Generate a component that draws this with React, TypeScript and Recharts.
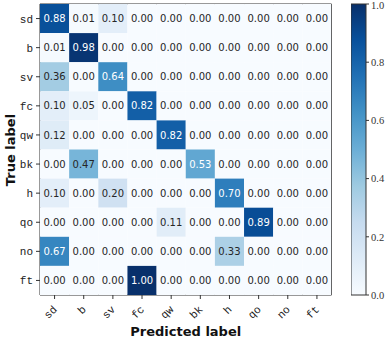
import React from 'react';
import { ScatterChart, Scatter, XAxis, YAxis, ReferenceArea, BarChart, Bar } from 'recharts';

const labels = ['sd', 'b', 'sv', 'fc', 'qw', 'bk', 'h', 'qo', 'no', 'ft'];
const rowSd = [0.88, 0.01, 0.10, 0.00, 0.00, 0.00, 0.00, 0.00, 0.00, 0.00];
const rowB = [0.01, 0.98, 0.00, 0.00, 0.00, 0.00, 0.00, 0.00, 0.00, 0.00];
const rowSv = [0.36, 0.00, 0.64, 0.00, 0.00, 0.00, 0.00, 0.00, 0.00, 0.00];
const rowFc = [0.10, 0.05, 0.00, 0.82, 0.00, 0.00, 0.00, 0.00, 0.00, 0.00];
const rowQw = [0.12, 0.00, 0.00, 0.00, 0.82, 0.00, 0.00, 0.00, 0.00, 0.00];
const rowBk = [0.00, 0.47, 0.00, 0.00, 0.00, 0.53, 0.00, 0.00, 0.00, 0.00];
const rowH = [0.10, 0.00, 0.20, 0.00, 0.00, 0.00, 0.70, 0.00, 0.00, 0.00];
const rowQo = [0.00, 0.00, 0.00, 0.00, 0.11, 0.00, 0.00, 0.89, 0.00, 0.00];
const rowNo = [0.67, 0.00, 0.00, 0.00, 0.00, 0.00, 0.33, 0.00, 0.00, 0.00];
const rowFt = [0.00, 0.00, 0.00, 1.00, 0.00, 0.00, 0.00, 0.00, 0.00, 0.00];
const matrix = [rowSd, rowB, rowSv, rowFc, rowQw, rowBk, rowH, rowQo, rowNo, rowFt];
const colorbarTicks = [0, 0.2, 0.4, 0.6, 0.8, 1.0];

const blues = ['#f7fbff', '#deebf7', '#c6dbef', '#9ecae1', '#6baed6', '#4292c6', '#2171b5', '#08519c', '#08306b'];

function hex(c: string) {
  return [parseInt(c.slice(1, 3), 16), parseInt(c.slice(3, 5), 16), parseInt(c.slice(5, 7), 16)];
}
function bluesColor(v: number) {
  const t = Math.max(0, Math.min(1, v)) * (blues.length - 1);
  const i = Math.min(Math.floor(t), blues.length - 2);
  const f = t - i;
  const a = hex(blues[i]);
  const b = hex(blues[i + 1]);
  const m = a.map((x, k) => Math.round(x + (b[k] - x) * f));
  return `rgb(${m[0]},${m[1]},${m[2]})`;
}

const cells: { x: number; y: number; v: number }[] = [];
matrix.forEach((row, r) => row.forEach((v, c) => cells.push({ x: c, y: r, v })));

const W = 388;
const H = 341;
const PL = 40;
const PT = 4;
const PR = 331.5;
const PB = 295;
const cellW = (PR - PL) / 10;
const cellH = (PB - PT) / 10;

const CellShape = (props: any) => {
  const { cx, cy, payload } = props;
  const v = payload.v;
  return (
    <g>
      <rect x={cx - cellW / 2} y={cy - cellH / 2} width={cellW} height={cellH} fill={bluesColor(v)} />
      <text x={cx} y={cy} dy={3.6} textAnchor="middle" fontSize={10} fontFamily="DejaVu Sans" fill={v > 0.5 ? '#ffffff' : '#262626'}>
        {v.toFixed(2)}
      </text>
    </g>
  );
};

const XTick = (props: any) => {
  const { x, y, payload } = props;
  return (
    <g transform={`translate(${x + 3},${y + 9}) rotate(-45)`}>
      <text x={0} y={0} textAnchor="end" fontSize={11} fontFamily="Liberation Mono" fill="#222">
        {labels[payload.value]}
      </text>
    </g>
  );
};

const YTick = (props: any) => {
  const { x, y, payload } = props;
  return (
    <text x={x} y={y} dy={4} textAnchor="end" fontSize={11} fontFamily="Liberation Mono" fill="#222">
      {labels[payload.value]}
    </text>
  );
};

const idx = [0, 1, 2, 3, 4, 5, 6, 7, 8, 9];

export default function App() {
  return (
    <div style={{ position: 'absolute', left: 0, top: 0, width: W, height: H, background: '#fff' }}>
      <div style={{ position: 'absolute', left: 0, top: 0 }}>
        <ScatterChart width={W} height={H} margin={{ top: PT, left: 0, right: W - PR, bottom: 0 }}>
          <XAxis
            dataKey="x"
            type="number"
            domain={[-0.5, 9.5]}
            ticks={idx}
            tick={<XTick />}
            tickSize={4}
            height={H - PB}
            axisLine={false}
            tickLine={{ stroke: '#333' }}
            interval={0}
            allowDataOverflow
          />
          <YAxis
            dataKey="y"
            type="number"
            domain={[-0.5, 9.5]}
            reversed
            ticks={idx}
            tick={<YTick />}
            tickSize={4}
            tickMargin={3}
            width={PL}
            axisLine={false}
            tickLine={{ stroke: '#333' }}
            interval={0}
            allowDataOverflow
          />
          <Scatter data={cells} shape={<CellShape />} isAnimationActive={false} />
          <ReferenceArea x1={-0.5} x2={9.5} y1={-0.5} y2={9.5} fill="none" stroke="#333" strokeWidth={1} ifOverflow="extendDomain" />
        </ScatterChart>
      </div>
      <div style={{ position: 'absolute', left: 351, top: 0 }}>
        <BarChart width={37} height={H} data={[{ v: 1 }]} margin={{ top: PT, left: 0, right: 0, bottom: H - PB }} barCategoryGap={0}>
          <defs>
            <linearGradient id="cbGrad" x1="0" y1="1" x2="0" y2="0">
              {blues.map((c, i) => (
                <stop key={i} offset={`${(i / (blues.length - 1)) * 100}%`} stopColor={c} />
              ))}
            </linearGradient>
          </defs>
          <XAxis hide />
          <YAxis
            orientation="right"
            type="number"
            domain={[0, 1]}
            ticks={colorbarTicks}
            tickFormatter={(v: number) => v.toFixed(1)}
            width={22}
            tickSize={3}
            tickMargin={2}
            axisLine={false}
            tickLine={{ stroke: '#333' }}
            tick={{ fontSize: 10.5, fontFamily: 'Liberation Serif', fill: '#333' }}
          />
          <Bar dataKey="v" fill="url(#cbGrad)" stroke="#333" strokeWidth={1} isAnimationActive={false} />
        </BarChart>
      </div>
      <div style={{ position: 'absolute', left: PL, width: PR - PL, top: 324, textAlign: 'center', fontFamily: 'DejaVu Sans', fontWeight: 'bold', fontSize: 13, color: '#111' }}>
        Predicted label
      </div>
      <div style={{ position: 'absolute', left: 10, top: (PT + PB) / 2, transform: 'translate(-50%, -50%) rotate(-90deg)', whiteSpace: 'nowrap', fontFamily: 'DejaVu Sans', fontWeight: 'bold', fontSize: 13, color: '#111' }}>
        True label
      </div>
    </div>
  );
}
